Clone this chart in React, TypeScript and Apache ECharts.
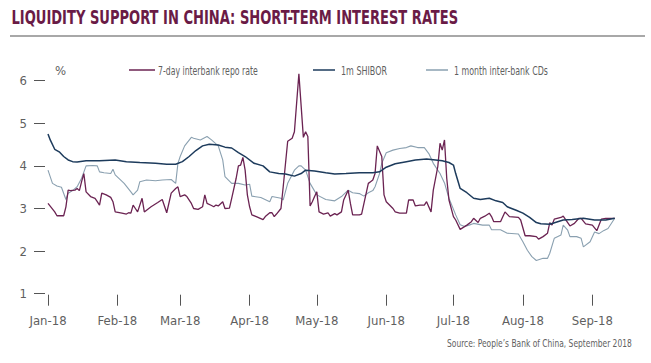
import React, { useEffect, useRef } from 'react';
import * as echarts from 'echarts';

const TITLE = 'LIQUIDITY SUPPORT IN CHINA: SHORT-TERM INTEREST RATES';
const SOURCE = 'Source: People’s Bank of China, September 2018';
const UNIT = '%';
const SERIES_NAMES = ['7-day interbank repo rate', '1m SHIBOR', '1 month inter-bank CDs'];
const MONTH_TICKS = ['2018-01-01', '2018-02-01', '2018-03-01', '2018-04-01', '2018-05-01', '2018-06-01', '2018-07-01', '2018-08-01', '2018-09-01'];
const MONTH_LABELS = ['Jan-18', 'Feb-18', 'Mar-18', 'Apr-18', 'May-18', 'Jun-18', 'Jul-18', 'Aug-18', 'Sep-18'];
const X_MIN = '2018-01-01';
const X_MAX = '2018-09-20';
const Y_MIN = 1;
const Y_MAX = 6;
const Y_STEP = 1;

const repoDates = [
  '2018-01-01', '2018-01-04', '2018-01-05', '2018-01-08', '2018-01-09', '2018-01-10', '2018-01-11', '2018-01-13',
  '2018-01-14', '2018-01-15', '2018-01-16', '2018-01-17', '2018-01-18', '2018-01-20', '2018-01-22', '2018-01-23',
  '2018-01-24', '2018-01-25', '2018-01-27', '2018-01-29', '2018-01-30', '2018-01-31', '2018-02-03', '2018-02-05',
  '2018-02-06', '2018-02-07', '2018-02-08', '2018-02-09', '2018-02-10', '2018-02-12', '2018-02-13', '2018-02-16',
  '2018-02-19', '2018-02-21', '2018-02-23', '2018-02-25', '2018-02-27', '2018-02-28', '2018-03-01', '2018-03-03',
  '2018-03-04', '2018-03-06', '2018-03-07', '2018-03-09', '2018-03-11', '2018-03-12', '2018-03-13', '2018-03-15',
  '2018-03-16', '2018-03-17', '2018-03-18', '2018-03-20', '2018-03-21', '2018-03-23', '2018-03-24', '2018-03-26',
  '2018-03-27', '2018-03-28', '2018-03-29', '2018-03-30', '2018-03-31', '2018-04-01', '2018-04-02', '2018-04-04',
  '2018-04-07', '2018-04-08', '2018-04-10', '2018-04-11', '2018-04-12', '2018-04-13', '2018-04-15', '2018-04-16',
  '2018-04-18', '2018-04-20', '2018-04-21', '2018-04-23', '2018-04-25', '2018-04-26', '2018-04-27', '2018-04-28',
  '2018-04-29', '2018-04-30', '2018-05-01', '2018-05-02', '2018-05-04', '2018-05-06', '2018-05-07', '2018-05-09',
  '2018-05-10', '2018-05-12', '2018-05-13', '2018-05-15', '2018-05-16', '2018-05-17', '2018-05-20', '2018-05-21',
  '2018-05-24', '2018-05-25', '2018-05-26', '2018-05-27', '2018-05-28', '2018-05-30', '2018-05-31', '2018-06-01',
  '2018-06-04', '2018-06-05', '2018-06-07', '2018-06-10', '2018-06-11', '2018-06-13', '2018-06-14', '2018-06-16',
  '2018-06-18', '2018-06-19', '2018-06-21', '2018-06-22', '2018-06-24', '2018-06-25', '2018-06-26', '2018-06-27',
  '2018-06-28', '2018-06-29', '2018-07-01', '2018-07-02', '2018-07-04', '2018-07-07', '2018-07-09', '2018-07-10',
  '2018-07-12', '2018-07-13', '2018-07-15', '2018-07-17', '2018-07-18', '2018-07-19', '2018-07-22', '2018-07-24',
  '2018-07-26', '2018-07-30', '2018-07-31', '2018-08-02', '2018-08-04', '2018-08-07', '2018-08-08', '2018-08-10',
  '2018-08-12', '2018-08-13', '2018-08-14', '2018-08-15', '2018-08-18', '2018-08-19', '2018-08-22', '2018-08-24',
  '2018-08-26', '2018-08-27', '2018-08-29', '2018-09-01', '2018-09-03', '2018-09-05', '2018-09-07', '2018-09-09',
  '2018-09-11',
];
const repoValues = [
  3.12, 2.92, 2.83, 2.83, 3.04, 3.43, 3.42, 3.43,
  3.47, 3.42, 3.63, 3.82, 3.39, 3.28, 3.24, 3.16,
  3.08, 3.36, 3.32, 3.26, 3.16, 2.92, 2.89, 2.87,
  2.90, 2.89, 3.08, 3.00, 2.92, 3.24, 2.92, 3.04,
  3.14, 3.21, 2.90, 3.36, 3.47, 3.51, 3.28, 3.32,
  3.28, 3.12, 3.00, 2.98, 3.04, 3.32, 3.12, 3.07,
  3.04, 3.08, 3.06, 3.16, 3.00, 3.01, 3.24, 3.71,
  4.00, 4.02, 4.20, 3.90, 3.32, 3.04, 2.85, 2.81,
  2.74, 2.81, 2.90, 2.90, 2.81, 2.87, 3.00, 3.51,
  4.58, 4.65, 4.80, 6.16, 4.67, 4.80, 4.69, 3.06,
  3.16, 3.28, 3.39, 2.92, 2.87, 2.90, 2.82, 2.88,
  2.85, 2.92, 3.20, 3.43, 3.12, 2.85, 2.85, 2.87,
  3.59, 3.63, 3.67, 3.82, 4.47, 4.22, 3.32, 3.16,
  3.00, 2.92, 2.89, 2.89, 3.20, 3.20, 3.06, 3.08,
  3.08, 3.16, 2.92, 3.43, 3.98, 4.53, 4.37, 4.61,
  3.71, 3.20, 2.81, 2.73, 2.51, 2.61, 2.69, 2.77,
  2.67, 2.77, 2.82, 2.89, 2.81, 2.69, 2.69, 2.92,
  2.81, 2.79, 2.73, 2.36, 2.36, 2.34, 2.28, 2.34,
  2.42, 2.67, 2.61, 2.75, 2.79, 2.82, 2.59, 2.65,
  2.77, 2.77, 2.64, 2.61, 2.48, 2.75, 2.77, 2.77,
  2.77,
];

const shiborDates = [
  '2018-01-01', '2018-01-02', '2018-01-04', '2018-01-06', '2018-01-08', '2018-01-10', '2018-01-12', '2018-01-14',
  '2018-01-18', '2018-01-24', '2018-01-31', '2018-02-05', '2018-02-11', '2018-02-18', '2018-02-23', '2018-02-27',
  '2018-03-02', '2018-03-05', '2018-03-08', '2018-03-11', '2018-03-14', '2018-03-18', '2018-03-21', '2018-03-24',
  '2018-03-27', '2018-03-30', '2018-04-03', '2018-04-07', '2018-04-10', '2018-04-14', '2018-04-17', '2018-04-21',
  '2018-04-24', '2018-04-26', '2018-04-30', '2018-05-05', '2018-05-09', '2018-05-14', '2018-05-20', '2018-05-26',
  '2018-05-29', '2018-06-01', '2018-06-05', '2018-06-10', '2018-06-14', '2018-06-19', '2018-06-23', '2018-06-26',
  '2018-06-29', '2018-07-01', '2018-07-02', '2018-07-04', '2018-07-07', '2018-07-10', '2018-07-13', '2018-07-17',
  '2018-07-20', '2018-07-23', '2018-07-25', '2018-07-29', '2018-08-01', '2018-08-04', '2018-08-07', '2018-08-09',
  '2018-08-13', '2018-08-19', '2018-08-23', '2018-08-28', '2018-09-02', '2018-09-07', '2018-09-11',
];
const shiborValues = [
  4.75, 4.61, 4.39, 4.33, 4.22, 4.14, 4.10, 4.09,
  4.12, 4.12, 4.14, 4.10, 4.08, 4.06, 4.04, 4.04,
  4.10, 4.22, 4.36, 4.47, 4.51, 4.49, 4.44, 4.42,
  4.31, 4.22, 4.06, 4.00, 3.86, 3.82, 3.81, 3.76,
  3.82, 3.90, 3.88, 3.84, 3.81, 3.82, 3.84, 3.84,
  3.86, 3.97, 4.05, 4.10, 4.14, 4.16, 4.14, 4.12,
  4.08, 4.02, 3.82, 3.47, 3.37, 3.24, 3.21, 3.24,
  3.18, 3.14, 3.04, 2.96, 2.89, 2.79, 2.67, 2.64,
  2.63, 2.73, 2.74, 2.77, 2.73, 2.73, 2.77,
];

const cdDates = [
  '2018-01-01', '2018-01-03', '2018-01-05', '2018-01-07', '2018-01-09', '2018-01-10', '2018-01-12', '2018-01-14',
  '2018-01-16', '2018-01-18', '2018-01-21', '2018-01-23', '2018-01-24', '2018-01-26', '2018-01-29', '2018-01-30',
  '2018-01-31', '2018-02-04', '2018-02-07', '2018-02-08', '2018-02-10', '2018-02-11', '2018-02-14', '2018-02-18',
  '2018-02-21', '2018-02-25', '2018-02-27', '2018-02-28', '2018-03-01', '2018-03-03', '2018-03-06', '2018-03-07',
  '2018-03-10', '2018-03-13', '2018-03-15', '2018-03-18', '2018-03-20', '2018-03-21', '2018-03-24', '2018-03-27',
  '2018-03-30', '2018-04-01', '2018-04-02', '2018-04-06', '2018-04-10', '2018-04-11', '2018-04-15', '2018-04-16',
  '2018-04-18', '2018-04-21', '2018-04-23', '2018-04-24', '2018-04-26', '2018-04-28', '2018-05-01', '2018-05-05',
  '2018-05-09', '2018-05-12', '2018-05-15', '2018-05-17', '2018-05-20', '2018-05-22', '2018-05-24', '2018-05-26',
  '2018-05-27', '2018-05-29', '2018-05-30', '2018-06-01', '2018-06-04', '2018-06-07', '2018-06-10', '2018-06-12',
  '2018-06-15', '2018-06-18', '2018-06-20', '2018-06-22', '2018-06-25', '2018-06-27', '2018-06-29', '2018-07-02',
  '2018-07-04', '2018-07-06', '2018-07-08', '2018-07-10', '2018-07-14', '2018-07-17', '2018-07-18', '2018-07-22',
  '2018-07-25', '2018-07-30', '2018-08-01', '2018-08-03', '2018-08-05', '2018-08-07', '2018-08-10', '2018-08-12',
  '2018-08-13', '2018-08-15', '2018-08-18', '2018-08-19', '2018-08-21', '2018-08-22', '2018-08-25', '2018-08-27',
  '2018-08-28', '2018-08-31', '2018-09-02', '2018-09-04', '2018-09-06', '2018-09-08', '2018-09-11',
];
const cdValues = [
  3.90, 3.59, 3.53, 3.50, 3.21, 3.36, 3.42, 3.51,
  3.71, 4.00, 4.01, 4.00, 3.86, 3.84, 3.82, 3.92,
  3.79, 3.59, 3.39, 3.32, 3.43, 3.63, 3.67, 3.65,
  3.67, 3.68, 3.59, 4.06, 4.22, 4.47, 4.67, 4.65,
  4.61, 4.69, 4.61, 4.47, 4.14, 3.75, 3.59, 3.59,
  3.55, 3.57, 3.29, 3.26, 3.16, 3.28, 3.24, 3.20,
  3.59, 3.90, 4.00, 4.00, 3.90, 3.59, 3.32, 3.21,
  3.18, 3.28, 3.43, 3.37, 3.35, 3.29, 3.37, 3.42,
  3.51, 3.82, 4.06, 4.31, 4.37, 4.41, 4.43, 4.47,
  4.43, 4.43, 4.29, 4.06, 3.82, 3.60, 3.24, 2.85,
  2.62, 2.58, 2.61, 2.65, 2.61, 2.61, 2.50, 2.50,
  2.42, 2.40, 2.22, 2.02, 1.87, 1.78, 1.83, 1.83,
  1.95, 2.30, 2.38, 2.61, 2.49, 2.34, 2.34, 2.30,
  2.10, 2.22, 2.45, 2.41, 2.48, 2.53, 2.77,
];

const COLORS = ['#6b2352', '#1d3b5c', '#8aa0b0'];
const FONT = "'Liberation Sans Narrow', 'DejaVu Sans Condensed', 'Roboto Condensed', 'Arial Narrow', sans-serif";
const TEXT_GRAY = '#5f5f5f';

function measure(text: string, font: string): number {
  const c = document.createElement('canvas');
  const ctx = c.getContext('2d');
  if (!ctx) return 0;
  ctx.font = font;
  return ctx.measureText(text).width;
}
function fitScale(text: string, font: string, target: number): number {
  const w = measure(text, font);
  return w > 0 ? target / w : 1;
}

export default function App() {
  const ref = useRef<HTMLDivElement>(null);

  useEffect(() => {
    if (!ref.current) return;
    const chart = echarts.init(ref.current, undefined, { renderer: 'svg' });
    const tp = (s: string) => echarts.time.parse(s).getTime();
    const monthValues = MONTH_TICKS.map(tp);
    const titleFont = `bold 19px ${FONT}`;
    const legendFont = `12px ${FONT}`;
    const sourceFont = `11px ${FONT}`;

    const pairs = (d: string[], v: number[]) => d.map((x, i) => [tp(x), v[i]]);

    // legend layout: [lineStart, lineEnd, textStart, textWidth]
    const legendLayout = [
      [129, 155, 158, 100],
      [313, 335, 341, 46],
      [426, 448, 454, 94],
    ];
    const legendGraphics = SERIES_NAMES.map((name, i) => {
      const [x1, x2, tx, tw] = legendLayout[i];
      return {
        type: 'group',
        children: [
          { type: 'line', shape: { x1, y1: 70, x2, y2: 70 }, style: { stroke: COLORS[i], lineWidth: 1.5 } },
          {
            type: 'text', x: tx, y: 70, scaleX: fitScale(name, legendFont, tw),
            style: { text: name, font: legendFont, fill: TEXT_GRAY, verticalAlign: 'middle' },
          },
        ],
      };
    });

    chart.setOption({
      animation: false,
      backgroundColor: '#ffffff',
      grid: { left: 48, right: 16.1, top: 80.7, bottom: 69.3, outerBoundsMode: 'none' },
      xAxis: {
        type: 'value',
        min: tp(X_MIN),
        max: tp(X_MAX),
        offset: 1,
        axisLine: { show: false },
        splitLine: { show: false },
        axisTick: { show: true, length: 11, lineStyle: { color: '#555', width: 1 }, customValues: monthValues },
        axisLabel: {
          customValues: monthValues,
          margin: 19,
          color: TEXT_GRAY,
          fontSize: 13,
          fontFamily: FONT,
          formatter: (val: number) => {
            const idx = monthValues.indexOf(val);
            return idx >= 0 ? MONTH_LABELS[idx] : '';
          },
        },
      },
      yAxis: {
        type: 'value',
        min: Y_MIN,
        max: Y_MAX,
        interval: Y_STEP,
        offset: 3,
        axisLine: { show: false },
        splitLine: { show: false },
        axisTick: { show: true, length: 11, lineStyle: { color: '#555', width: 1 } },
        axisLabel: { margin: 18, color: TEXT_GRAY, fontSize: 13, fontFamily: FONT },
      },
      series: [
        {
          name: SERIES_NAMES[0], type: 'line', data: pairs(repoDates, repoValues), symbol: 'none', showSymbol: false,
          clip: false, color: COLORS[0], lineStyle: { color: COLORS[0], width: 1.3 }, z: 3,
        },
        {
          name: SERIES_NAMES[1], type: 'line', data: pairs(shiborDates, shiborValues), symbol: 'none', showSymbol: false,
          clip: false, color: COLORS[1], lineStyle: { color: COLORS[1], width: 1.5 }, z: 4,
        },
        {
          name: SERIES_NAMES[2], type: 'line', data: pairs(cdDates, cdValues), symbol: 'none', showSymbol: false,
          clip: false, color: COLORS[2], lineStyle: { color: COLORS[2], width: 1.1 }, z: 2,
        },
      ],
      graphic: [
        {
          type: 'text', x: 11.5, y: 17.5, scaleX: fitScale(TITLE, titleFont, 447),
          style: { text: TITLE, font: titleFont, fill: '#6a1b46', verticalAlign: 'middle' },
        },
        {
          type: 'line', shape: { x1: 10, y1: 36, x2: 645, y2: 36 },
          style: { stroke: '#a8a8a8', lineWidth: 2 },
        },
        {
          type: 'text', x: 55, y: 70,
          style: { text: UNIT, fontSize: 13, fontFamily: FONT, fill: TEXT_GRAY, verticalAlign: 'middle' },
        },
        ...legendGraphics,
        {
          type: 'text', x: 447, y: 343, scaleX: fitScale(SOURCE, sourceFont, 185),
          style: { text: SOURCE, font: sourceFont, fill: TEXT_GRAY, verticalAlign: 'middle' },
        },
      ],
    });
    return () => chart.dispose();
  }, []);

  return (
    <div
      ref={ref}
      style={{ position: 'fixed', left: 0, top: 0, width: 651, height: 363, background: '#fff' }}
    />
  );
}
